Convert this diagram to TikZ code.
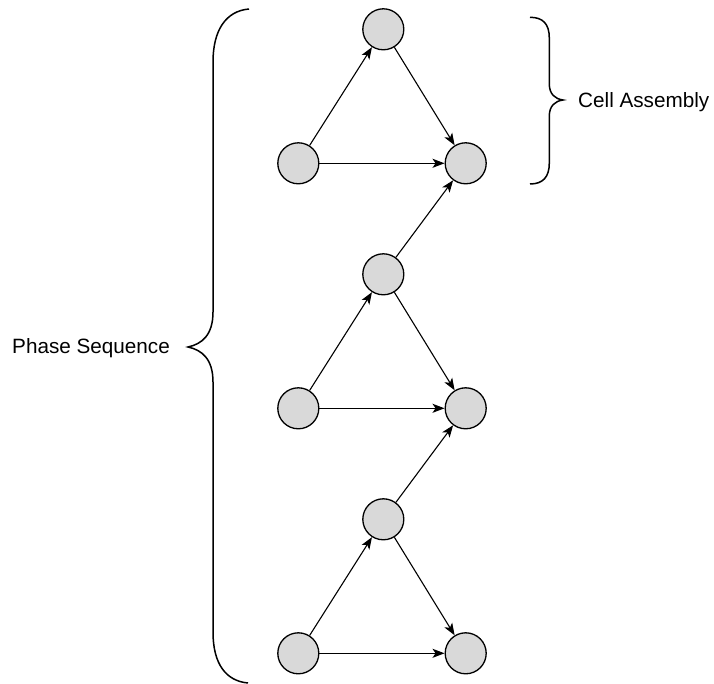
\documentclass[tikz,border=0pt]{standalone}
\usepackage{fontspec}
\setmainfont{Liberation Sans}
\usetikzlibrary{arrows.meta}
\definecolor{cellgray}{HTML}{D9D9D9}
\begin{document}
\begin{tikzpicture}[x=1pt,y=-1pt,
  cell/.style={circle,draw=black,fill=cellgray,line width=1.3pt,minimum size=41pt,inner sep=0pt},
  link/.style={line width=1.1pt,-{Stealth[length=12pt,width=9pt,inset=3pt]}},
  brace/.style={line width=1.5pt},
  lbl/.style={font=\fontsize{20.7}{24}\selectfont,anchor=base west,inner sep=0pt}]
\useasboundingbox (0,0) rectangle (714,684);
% cells
\node[cell] (t1) at (383.3,29.3) {};
\node[cell] (l1) at (298.3,163.3) {};
\node[cell] (r1) at (465.7,163.3) {};
\node[cell] (t2) at (383.3,274.3) {};
\node[cell] (l2) at (298.3,408.3) {};
\node[cell] (r2) at (465.7,408.3) {};
\node[cell] (t3) at (383.3,519.3) {};
\node[cell] (l3) at (298.3,653.3) {};
\node[cell] (r3) at (465.7,653.3) {};
% edges
\foreach \i in {1,2,3}{
  \draw[link] (l\i) -- (t\i);
  \draw[link] (t\i) -- (r\i);
  \draw[link] (l\i) -- (r\i);
}
\draw[link] (t2) -- (r1);
\draw[link] (t3) -- (r2);
% big brace
\coordinate (bt) at (249,9);
\coordinate (bb) at (248,683);
\coordinate (btip) at (188,347);
\draw[brace] (bt) .. controls (226,11) and (213,30) .. (213,62)
  -- (213,312) .. controls (213,335) and (202,344) .. (btip)
  .. controls (202,350) and (213,359) .. (213,382)
  -- (213,632) .. controls (213,664) and (226,681) .. (bb);
% small brace
\coordinate (st) at (530,17.3);
\coordinate (sb) at (530,184);
\coordinate (stip) at (563,100);
\draw[brace] (st) .. controls (543,17.3) and (549.3,24) .. (549.3,38)
  -- (549.3,84) .. controls (549.3,94) and (555,99) .. (stip)
  .. controls (555,101) and (549.3,106) .. (549.3,116)
  -- (549.3,163) .. controls (549.3,177) and (543,184) .. (sb);
% labels
\node[lbl] (ps) at (12,353.3) {Phase Sequence};
\node[lbl] (ca) at (578,107.3) {Cell Assembly};
\end{tikzpicture}
\end{document}
